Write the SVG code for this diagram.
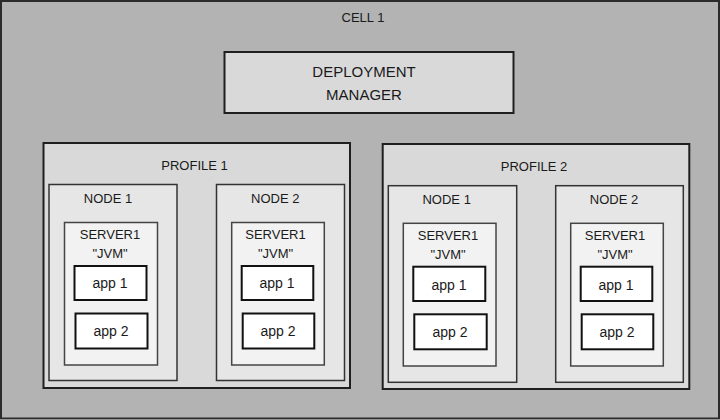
<svg xmlns="http://www.w3.org/2000/svg" width="720" height="420" viewBox="0 0 720 420">
<style>
text{font-family:"Liberation Sans",Arial,sans-serif;fill:#1a1a1a;text-anchor:middle}
.cell{fill:#b3b3b3;stroke:#2b2b2b;stroke-width:2}
.prof{fill:#d9d9d9;stroke:#1f1f1f;stroke-width:2}
.node{fill:#e6e6e6;stroke:#333;stroke-width:1.5}
.srv{fill:#f2f2f2;stroke:#444;stroke-width:1.5}
.app{fill:#fff;stroke:#111;stroke-width:2}
.t13{font-size:13px}
.t14{font-size:14px}
.t15{font-size:15px}
</style>
<g id="cell1">
<rect class="cell" x="1" y="1" width="718" height="417.5"/>
<text class="t13" x="363" y="21.5">CELL 1</text>
</g>
<g id="deployment-manager">
<rect class="prof" x="224.5" y="52" width="289" height="61"/>
<text class="t15" x="364" y="77">DEPLOYMENT</text>
<text class="t15" x="364" y="99.5">MANAGER</text>
</g>
<g id="profile1">
<rect class="prof" x="43.5" y="143" width="306.5" height="245"/>
<text class="t13" x="194.5" y="170">PROFILE 1</text>
</g>
<g id="p1-node1">
<rect class="node" x="49" y="184.5" width="128" height="196"/>
<text class="t13" x="108" y="202.7">NODE 1</text>
</g>
<g id="p1-n1-server1">
<rect class="srv" x="64.5" y="222.5" width="93" height="142.5"/>
<text class="t13" x="110" y="239.3">SERVER1</text>
<text class="t13" x="110" y="258.3">"JVM"</text>
</g>
<g id="p1-n1-app1"><rect class="app" x="74.5" y="266" width="72" height="34"/><text class="t14" x="110" y="288.3">app 1</text></g>
<g id="p1-n1-app2"><rect class="app" x="75.5" y="313.5" width="72" height="35"/><text class="t14" x="111" y="336">app 2</text></g>
<g id="p1-node2">
<rect class="node" x="216.5" y="184.5" width="128" height="196"/>
<text class="t13" x="275.3" y="202.7">NODE 2</text>
</g>
<g id="p1-n2-server1">
<rect class="srv" x="231.7" y="222.5" width="92.6" height="142.5"/>
<text class="t13" x="275.5" y="239.3">SERVER1</text>
<text class="t13" x="275.5" y="258.3">"JVM"</text>
</g>
<g id="p1-n2-app1"><rect class="app" x="241.7" y="266" width="71.6" height="34"/><text class="t14" x="277" y="288.3">app 1</text></g>
<g id="p1-n2-app2"><rect class="app" x="242.7" y="313.5" width="71.6" height="35"/><text class="t14" x="278" y="336">app 2</text></g>
<g id="profile2">
<rect class="prof" x="382.7" y="144" width="306.6" height="245"/>
<text class="t13" x="534" y="170.7">PROFILE 2</text>
</g>
<g id="p2-node1">
<rect class="node" x="388.3" y="185.7" width="128.4" height="196.6"/>
<text class="t13" x="446.7" y="204">NODE 1</text>
</g>
<g id="p2-n1-server1">
<rect class="srv" x="403.3" y="223.3" width="92.7" height="142.7"/>
<text class="t13" x="448" y="240">SERVER1</text>
<text class="t13" x="448" y="259.3">"JVM"</text>
</g>
<g id="p2-n1-app1"><rect class="app" x="413.3" y="266.7" width="72" height="34.3"/><text class="t14" x="449" y="289.5">app 1</text></g>
<g id="p2-n1-app2"><rect class="app" x="414.3" y="314.3" width="72.4" height="35"/><text class="t14" x="450" y="336.7">app 2</text></g>
<g id="p2-node2">
<rect class="node" x="555.7" y="185.7" width="127.6" height="196.6"/>
<text class="t13" x="614" y="204">NODE 2</text>
</g>
<g id="p2-n2-server1">
<rect class="srv" x="570.7" y="223.3" width="92.6" height="142.7"/>
<text class="t13" x="615" y="240">SERVER1</text>
<text class="t13" x="615" y="259.3">"JVM"</text>
</g>
<g id="p2-n2-app1"><rect class="app" x="580.7" y="266.7" width="71.6" height="34.3"/><text class="t14" x="616" y="289.5">app 1</text></g>
<g id="p2-n2-app2"><rect class="app" x="581.7" y="314.3" width="71.6" height="35"/><text class="t14" x="617" y="336.7">app 2</text></g>
<g id="connectors"></g>
</svg>
